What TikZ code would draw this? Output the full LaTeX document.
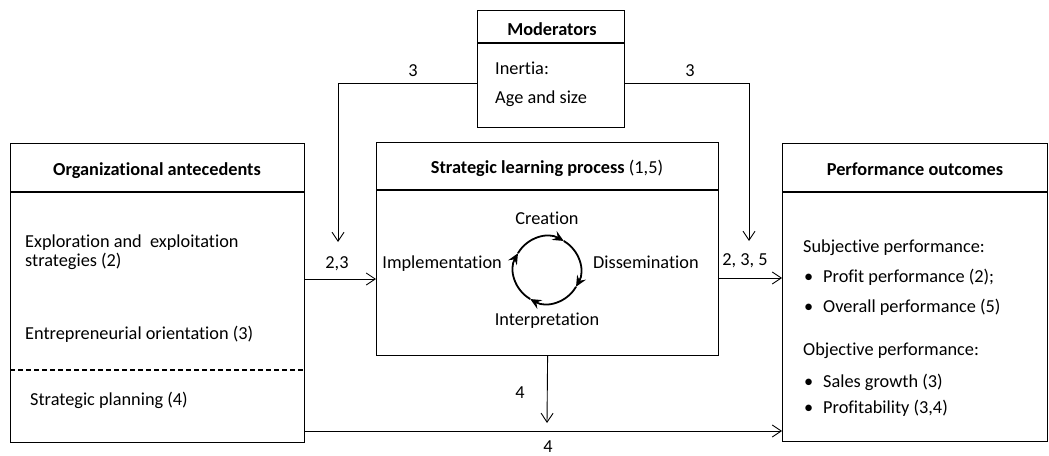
\documentclass[tikz,border=0pt]{standalone}
\usepackage{fontspec}
\setmainfont{Carlito}[Ligatures={NoCommon}]
\usetikzlibrary{arrows.meta}
\begin{document}
\begin{tikzpicture}[x=1pt,y=-1pt,
  font=\fontsize{18.3}{20}\selectfont,
  box/.style={draw, line width=1.2pt, inner sep=0pt, anchor=north west},
  sep/.style={line width=1.2pt},
  conn/.style={line width=0.9pt, -{Straight Barb[length=9pt,width=12pt]}},
  lbl/.style={inner sep=0pt, anchor=base},
  txt/.style={inner sep=0pt, anchor=base west},
  head/.style={inner sep=0pt, anchor=base, font=\fontsize{18.3}{20}\selectfont\bfseries},
  cyc/.style={line width=1.8pt, -{Stealth[length=11pt,width=10pt,inset=4pt]}}
]
\useasboundingbox (0,0) rectangle (1049,455);

% boxes
\node[box, minimum width=147pt, minimum height=117pt] (mod) at (477,10) {};
\node[box, minimum width=294pt, minimum height=299pt] (ante) at (10,143) {};
\node[box, minimum width=342pt, minimum height=213pt] (slp) at (376,142) {};
\node[box, minimum width=265pt, minimum height=298pt] (perf) at (782,143) {};

% header separators
\draw[sep] (mod.west |- 0,43) -- (mod.east |- 0,43);
\draw[sep] (ante.west |- 0,192) -- (ante.east |- 0,192);
\draw[sep] (slp.west |- 0,190) -- (slp.east |- 0,190);
\draw[sep] (perf.west |- 0,192) -- (perf.east |- 0,192);
\draw[line width=1.4pt, dash pattern=on 5pt off 3pt] (ante.west |- 0,370) -- (ante.east |- 0,370);

% headers
\node[head] (hmod) at (552,35) {Moderators};
\node[head] (hante) at (157,175) {Organizational antecedents};
\node[head] (hslp) at (547,173) {Strategic learning process \mdseries(1,5)};
\node[head] (hperf) at (915,175) {Performance outcomes};

% moderators
\node[txt] (inertia) at (495,74) {Inertia:};
\node[txt] (age) at (495,103) {Age and size};

% antecedents
\node[txt] (a1) at (25,247) {Exploration and\ \ exploitation};
\node[txt] (a2) at (25,266) {strategies (2)};
\node[txt] (a3) at (25,339) {Entrepreneurial orientation (3)};
\node[txt] (a4) at (30,405) {Strategic planning (4)};

% learning cycle
\coordinate (c) at (547,270);
\draw[cyc] (c) ++(150:33.5pt) arc[start angle=150, end angle=60, radius=33.5pt];
\draw[cyc] (c) ++(60:33.5pt) arc[start angle=60, end angle=-30, radius=33.5pt];
\draw[cyc] (c) ++(-30:33.5pt) arc[start angle=-30, end angle=-120, radius=33.5pt];
\draw[cyc] (c) ++(-120:33.5pt) arc[start angle=-120, end angle=-210, radius=33.5pt];
\node[lbl] (cre) at (547,224) {Creation};
\node[inner sep=0pt, anchor=base east] (imp) at (502,268) {Implementation};
\node[txt] (dis) at (593,268) {Dissemination};
\node[lbl] (int) at (547,325) {Interpretation};

% outcomes
\node[txt] (p1) at (803,252) {Subjective performance:};
\node[txt] (b1) at (804,282) {•};
\node[txt] (p2) at (823,282) {Profit performance (2);};
\node[txt] (b2) at (804,312) {•};
\node[txt] (p3) at (823,312) {Overall performance (5)};
\node[txt] (p4) at (803,355) {Objective performance:};
\node[txt] (b3) at (804,387) {•};
\node[txt] (p5) at (823,387) {Sales growth (3)};
\node[txt] (b4) at (804,413) {•};
\node[txt] (p6) at (823,413) {Profitability (3,4)};

% connectors
\coordinate (d1) at (338,242);
\coordinate (d2) at (749,241);
\coordinate (d3) at (547,423);
\draw[conn] (mod.west |- 0,83) -| (d1);
\draw[conn] (mod.east |- 0,83) -| (d2);
\draw[conn] (ante.east |- 0,279) -- (slp.west |- 0,279);
\draw[conn] (slp.east |- 0,278) -- (perf.west |- 0,278);
\draw[conn] (slp.south) -- (d3);
\draw[conn] (ante.east |- 0,431) -- (perf.west |- 0,431);

% connector labels
\node[lbl] (l1) at (413,76) {3};
\node[lbl] (l2) at (690,76) {3};
\node[lbl] (l3) at (337,268) {2,3};
\node[lbl] (l4) at (745,265) {2, 3, 5};
\node[lbl] (l5) at (520,398) {4};
\node[lbl] (l6) at (548,452) {4};
\end{tikzpicture}
\end{document}
